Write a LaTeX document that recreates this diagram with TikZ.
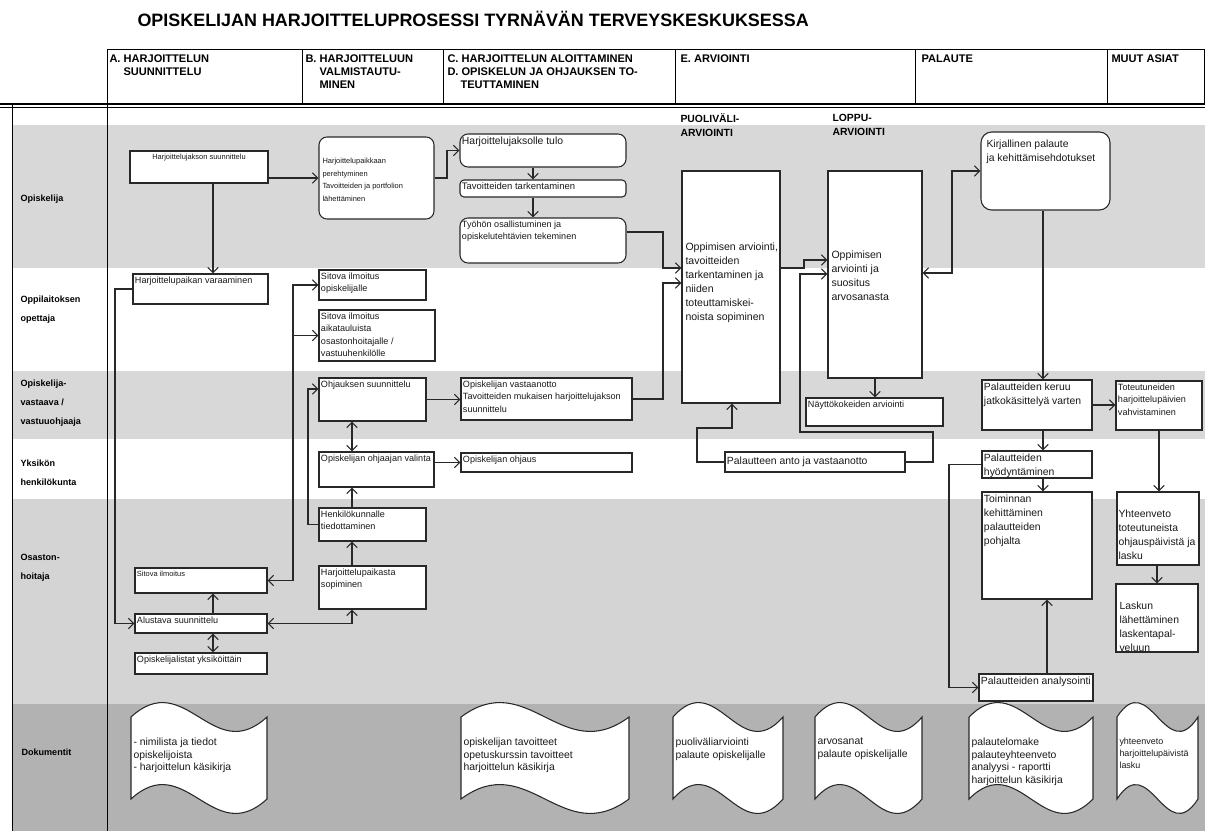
\documentclass[tikz,border=0pt]{standalone}
\usepackage{fontspec}
\setmainfont{Liberation Sans}
\usetikzlibrary{arrows.meta,fit}

\tikzset{every picture/.style={line width=0.75pt}}
\tikzset{
  box/.style={draw={rgb, 255:red, 40; green, 40; blue, 40}, fill=white, inner sep=0pt, line width=0.8},
  rbox/.style={box, rounded corners=6},
  txt/.style={anchor=north west, inner xsep=1.5pt, inner ysep=2pt, align=left, text={rgb, 255:red, 25; green, 25; blue, 25}},
  lane/.style={anchor=north west, inner sep=0pt, align=left, font=\bfseries\fontsize{6.8}{14.3}\selectfont},
  head/.style={anchor=north west, inner sep=0pt, align=left, font=\bfseries\fontsize{8.3}{9.75}\selectfont},
  fa/.style={font=\fontsize{5.6}{9.4}\selectfont},
  fc/.style={font=\fontsize{6.8}{9.4}\selectfont},
  fd/.style={font=\fontsize{7.1}{9.4}\selectfont},
  fe/.style={font=\fontsize{7.8}{10.5}\selectfont},
  ff/.style={font=\fontsize{7.9}{10.5}\selectfont},
  fdoc/.style={font=\fontsize{7.8}{9.6}\selectfont},
  arr/.style={draw={rgb, 255:red, 40; green, 40; blue, 40}, line width=0.8, -{Straight Barb[length=4pt,width=8pt]}},
  darr/.style={arr, {Straight Barb[length=4pt,width=8pt]}-{Straight Barb[length=4pt,width=8pt]}},
  doc/.style={draw={rgb, 255:red, 40; green, 40; blue, 40}, fill=white, line width=0.8},
  band/.style={fill={rgb, 255:red, 216; green, 216; blue, 216}},
}

\begin{document}
\begin{tikzpicture}[x=0.75pt,y=0.75pt,yscale=-1,xscale=1]
\useasboundingbox (0,0) rectangle (1205,831);

%Lanes
\fill[white] (0,0) rectangle (1205,831);
\fill[band] (12,125) rectangle (1205,268);
\fill[band] (12,371) rectangle (1205,439);
\fill[band, fill={rgb, 255:red, 212; green, 212; blue, 212}] (12,499) rectangle (1205,704);
\fill[band, fill={rgb, 255:red, 178; green, 178; blue, 178}] (12,704) rectangle (1205,831);

%Header
\draw (107,50) rectangle (1204,104);
\foreach \x in {302,443,675,915,1107} \draw (\x,50) -- (\x,104);
\draw[line width=1.5] (0,104.5) -- (1205,104.5);
\draw[line width=0.6] (0,107.5) -- (1205,107.5);
\draw (12,104) -- (12,831);
\draw (107,104) -- (107,831);

% Text Node
\node[anchor=base west, inner sep=0pt, font=\bfseries\fontsize{13.45}{16}\selectfont] (title) at (137,27) {OPISKELIJAN HARJOITTELUPROSESSI TYRNÄVÄN TERVEYSKESKUKSESSA};
\node[head] (hA) at (109,54.3) {A. HARJOITTELUN\\\hspace*{10.5pt}SUUNNITTELU};
\node[head] (hB) at (305,54.3) {B. HARJOITTELUUN\\\hspace*{10.5pt}VALMISTAUTU-\\\hspace*{10.5pt}MINEN};
\node[head] (hC) at (447,54.3) {C. HARJOITTELUN ALOITTAMINEN\\D. OPISKELUN JA OHJAUKSEN TO-\\\hspace*{9.75pt}TEUTTAMINEN};
\node[head] (hE) at (680,54.3) {E. ARVIOINTI};
\node[head] (hF) at (921,54.3) {PALAUTE};
\node[head] (hG) at (1111,54.3) {MUUT ASIAT};
\node[anchor=north west, inner sep=0pt, align=left, font=\bfseries\fontsize{7.8}{10.5}\selectfont] (pv) at (680,113.3) {PUOLIVÄLI-\\ARVIOINTI};
\node[anchor=north west, inner sep=0pt, align=left, font=\bfseries\fontsize{7.8}{10.5}\selectfont] (lp) at (832,113.3) {LOPPU-\\ARVIOINTI};

% Lane labels
\node[lane] (lOpisk) at (20,194.7) {Opiskelija};
\node[lane] (lOppil) at (20,295.7) {Oppilaitoksen\\opettaja};
\node[lane] (lVast) at (20,379.7) {Opiskelija-\\vastaava /\\vastuuohjaaja};
\node[lane] (lYks) at (20,459.7) {Yksikön\\henkilökunta};
\node[lane] (lOsa) at (20,553.7) {Osaston-\\hoitaja};
\node[lane] (lDok) at (21,748.7) {Dokumentit};

%Shape: Rectangle
\node[box, fit={(130,151) (268,183)}] (a1) {};
\node[box, fit={(133,274) (268,304)}] (a2) {};
\node[box, fit={(135,568) (267,593)}] (sit) {};
\node[box, fit={(135,614) (267,633)}] (alu) {};
\node[box, fit={(135,653) (267,674)}] (lst) {};
\node[rbox, fit={(319,137) (434,219)}] (b1) {};
\node[box, fit={(319,270) (426,300)}] (b2) {};
\node[box, fit={(319,310) (435,361)}] (b3) {};
\node[box, fit={(319,378) (426,421)}] (b4) {};
\node[box, fit={(319,452) (434,487)}] (b5) {};
\node[box, fit={(319,508) (426,541)}] (b6) {};
\node[box, fit={(319,566) (426,609)}] (b7) {};
\node[rbox, fit={(460,134) (626,167)}] (c1) {};
\node[box, rounded corners=3, fit={(460,180) (626,197)}] (c2) {};
\node[rbox, fit={(460,218) (626,263)}] (c3) {};
\node[box, fit={(461,378) (632,420)}] (c5) {};
\node[box, fit={(461,453) (632,472)}] (c6) {};
\node[box, fit={(682,171) (780,403)}] (e1) {};
\node[box, fit={(828,171) (922,378)}] (e2) {};
\node[box, fit={(806,398) (943,426)}] (ny) {};
\node[box, fit={(725,452) (905,472)}] (pa) {};
\node[rbox, rounded corners=8, fit={(981,132) (1110,210)}] (f1) {};
\node[box, fit={(982,380) (1092,430)}] (f2) {};
\node[box, fit={(1116,381) (1202,430)}] (g1) {};
\node[box, fit={(982,451) (1092,478)}] (f3) {};
\node[box, fit={(982,492) (1092,599)}] (f4) {};
\node[box, fit={(979,674) (1093,701)}] (f5) {};
\node[box, fit={(1117,492) (1199,565)}] (g2) {};
\node[box, fit={(1116,584) (1198,652)}] (g3) {};

% Text Node
\node[txt, fa, anchor=north] (a1t) at (a1.north) {Harjoittelujakson suunnittelu};
\node[txt, fc] (a2t) at (a2.north west) {Harjoittelupaikan varaaminen};
\node[txt, fa] (sitt) at (sit.north west) {Sitova ilmoitus};
\node[txt, fc] (alut) at (alu.north west) {Alustava suunnittelu};
\node[txt, fc] (lstt) at (lst.north west) {Opiskelijalistat yksiköittäin};
\node[txt, fa] (b1t) at (320,155) {Harjoittelupaikkaan\\perehtyminen\\Tavoitteiden ja portfolion\\lähettäminen};
\node[txt, fc] (b2t) at (b2.north west) {Sitova ilmoitus\\opiskelijalle};
\node[txt, fc] (b3t) at (b3.north west) {Sitova ilmoitus\\aikatauluista\\osastonhoitajalle /\\vastuuhenkilölle};
\node[txt, fc] (b4t) at (b4.north west) {Ohjauksen suunnittelu};
\node[txt, fc] (b5t) at (b5.north west) {Opiskelijan ohjaajan valinta};
\node[txt, fc] (b6t) at (b6.north west) {Henkilökunnalle\\tiedottaminen};
\node[txt, fc] (b7t) at (b7.north west) {Harjoittelupaikasta\\sopiminen};
\node[txt, fe] (c1t) at (c1.north west) {Harjoittelujaksolle tulo};
\node[txt, fd] (c2t) at (c2.north west) {Tavoitteiden tarkentaminen};
\node[txt, fc] (c3t) at (c3.north west) {Työhön osallistuminen ja\\opiskelutehtävien tekeminen};
\node[txt, fc] (c5t) at (c5.north west) {Opiskelijan vastaanotto\\Tavoitteiden mukaisen harjoittelujakson\\suunnittelu};
\node[txt, fc] (c6t) at (c6.north west) {Opiskelijan ohjaus};
\node[txt, ff] (e1t) at (683,239.5) {Oppimisen arviointi,\\tavoitteiden\\tarkentaminen ja\\niiden\\toteuttamiskei-\\noista sopiminen};
\node[txt, ff] (e2t) at (829,247.5) {Oppimisen\\arviointi ja\\suositus\\arvosanasta};
\node[txt, fc] (nyt) at (ny.north west) {Näyttökokeiden arviointi};
\node[txt, fe, anchor=west] (pat) at (pa.west) {Palautteen anto ja vastaanotto};
\node[txt, fe] (f1t) at (984,136.6) {Kirjallinen palaute\\ja kehittämisehdotukset};
\node[txt, fe] (f2t) at (f2.north west) {Palautteiden keruu\\jatkokäsittelyä varten};
\node[txt, fc] (g1t) at (g1.north west) {Toteutuneiden\\harjoittelupäivien\\vahvistaminen};
\node[txt, fe] (f3t) at (f3.north west) {Palautteiden\\hyödyntäminen};
\node[txt, fe] (f4t) at (f4.north west) {Toiminnan\\kehittäminen\\palautteiden\\pohjalta};
\node[txt, fe] (f5t) at (f5.north west) {Palautteiden analysointi};
\node[txt, fe] (g2t) at (1116,506.6) {Yhteenveto\\toteutuneista\\ohjauspäivistä ja\\lasku};
\node[txt, fe] (g3t) at (1117,598.6) {Laskun\\lähettäminen\\laskentapal-\\veluun};

%Straight Lines
\draw[arr] (a1.east |- b1.west) -- (b1.west);
\draw[arr] (a1.south -| 213,0) -- (a2.north -| 213,0);
\draw[arr] (a2.west) -| (alu.west -| 115,0) -- (alu.west);
\draw[darr] (sit.east) -| (b2.west -| 293,0) -- (b2.west);
\draw[arr] (b3.west -| 293,0) -- (b3.west);
\draw[arr] (b6.west) -| (308,389) -- (b4.west |- 0,389);
\draw[arr] (b4.east) -- (b4.east -| c5.west);
\draw[darr] (b4.south -| 352,0) -- (b5.north -| 352,0);
\draw[arr] (b5.east |- c6.west) -- (c6.west);
\draw[arr] (b6.north -| 352,0) -- (b5.south -| 352,0);
\draw[arr] (b7.north -| 352,0) -- (b6.south -| 352,0);
\draw[darr] (alu.east) -| (b7.south -| 352,0);
\draw[arr] (alu.north -| 213,0) -- (sit.south -| 213,0);
\draw[darr] (alu.south -| 213,0) -- (lst.north -| 213,0);
\draw[arr] (b1.east) -| (c1.west -| 447,0) -- (c1.west);
\draw[arr] (c1.south -| 533,0) -- (c2.north -| 533,0);
\draw[arr] (c2.south -| 533,0) -- (c3.north -| 533,0);
\draw[arr] (c3.east |- 0,232) -| (663,268) -- (e1.west |- 0,268);
\draw[arr] (c5.east) -| (663,283) -- (e1.west |- 0,283);
\draw[arr] (e1.east |- 0,268) -| (804,260) -- (e2.west |- 0,260);
\draw[arr] (pa.west) -| (697,428) -| (e1.south -| 732,0);
\draw[arr] (pa.east) -| (933,432) -| (800,274) -- (e2.west |- 0,274);
\draw[arr] (e2.south) -- (e2.south |- ny.north);
\draw[darr] (f1.west) -| (952,273) -- (e2.east |- 0,273);
\draw[arr] (f1.south -| 1043,0) -- (f2.north -| 1043,0);
\draw[arr] (f2.east) -- (f2.east -| g1.west);
\draw[arr] (f2.south -| 1043,0) -- (f3.north -| 1043,0);
\draw[arr] (f3.south -| 1043,0) -- (f4.north -| 1043,0);
\draw[arr] (f3.west) -| (f5.west -| 949,0) -- (f5.west);
\draw[arr] (f5.north -| 1047,0) -- (f4.south -| 1047,0);
\draw[arr] (g1.south) -- (g1.south |- g2.north);
\draw[arr] (g2.south -| 1157,0) -- (g3.north -| 1157,0);

%Shape: Documents
\foreach \x/\w in {131/136,461/168,673/110,815/107,969/124,1117/81}
  \draw[doc] (\x,717) .. controls +(0.4*\w,-50) and +(-0.4*\w,50) .. ++(\w,0) -- ++(0,82) .. controls +(-0.4*\w,50) and +(0.4*\w,-50) .. ++(-\w,0) -- cycle;

% Text Node
\node[txt, fdoc] (d1t) at (131,734.5) {- nimilista ja tiedot\\opiskelijoista\\- harjoittelun käsikirja};
\node[txt, fdoc] (d2t) at (461,734.5) {opiskelijan tavoitteet\\opetuskurssin tavoitteet\\harjoittelun käsikirja};
\node[txt, fdoc] (d3t) at (673,734.5) {puoliväliarviointi\\palaute opiskelijalle};
\node[txt, fdoc] (d4t) at (815,734.5) {arvosanat\\palaute opiskelijalle};
\node[txt, fdoc] (d5t) at (969,734.5) {palautelomake\\palauteyhteenveto\\analyysi - raportti\\harjoittelun käsikirja};
\node[txt, font=\fontsize{6.7}{9.2}\selectfont] (d6t) at (1117,734.5) {yhteenveto\\harjoittelupäivistä\\lasku};

\end{tikzpicture}
\end{document}
